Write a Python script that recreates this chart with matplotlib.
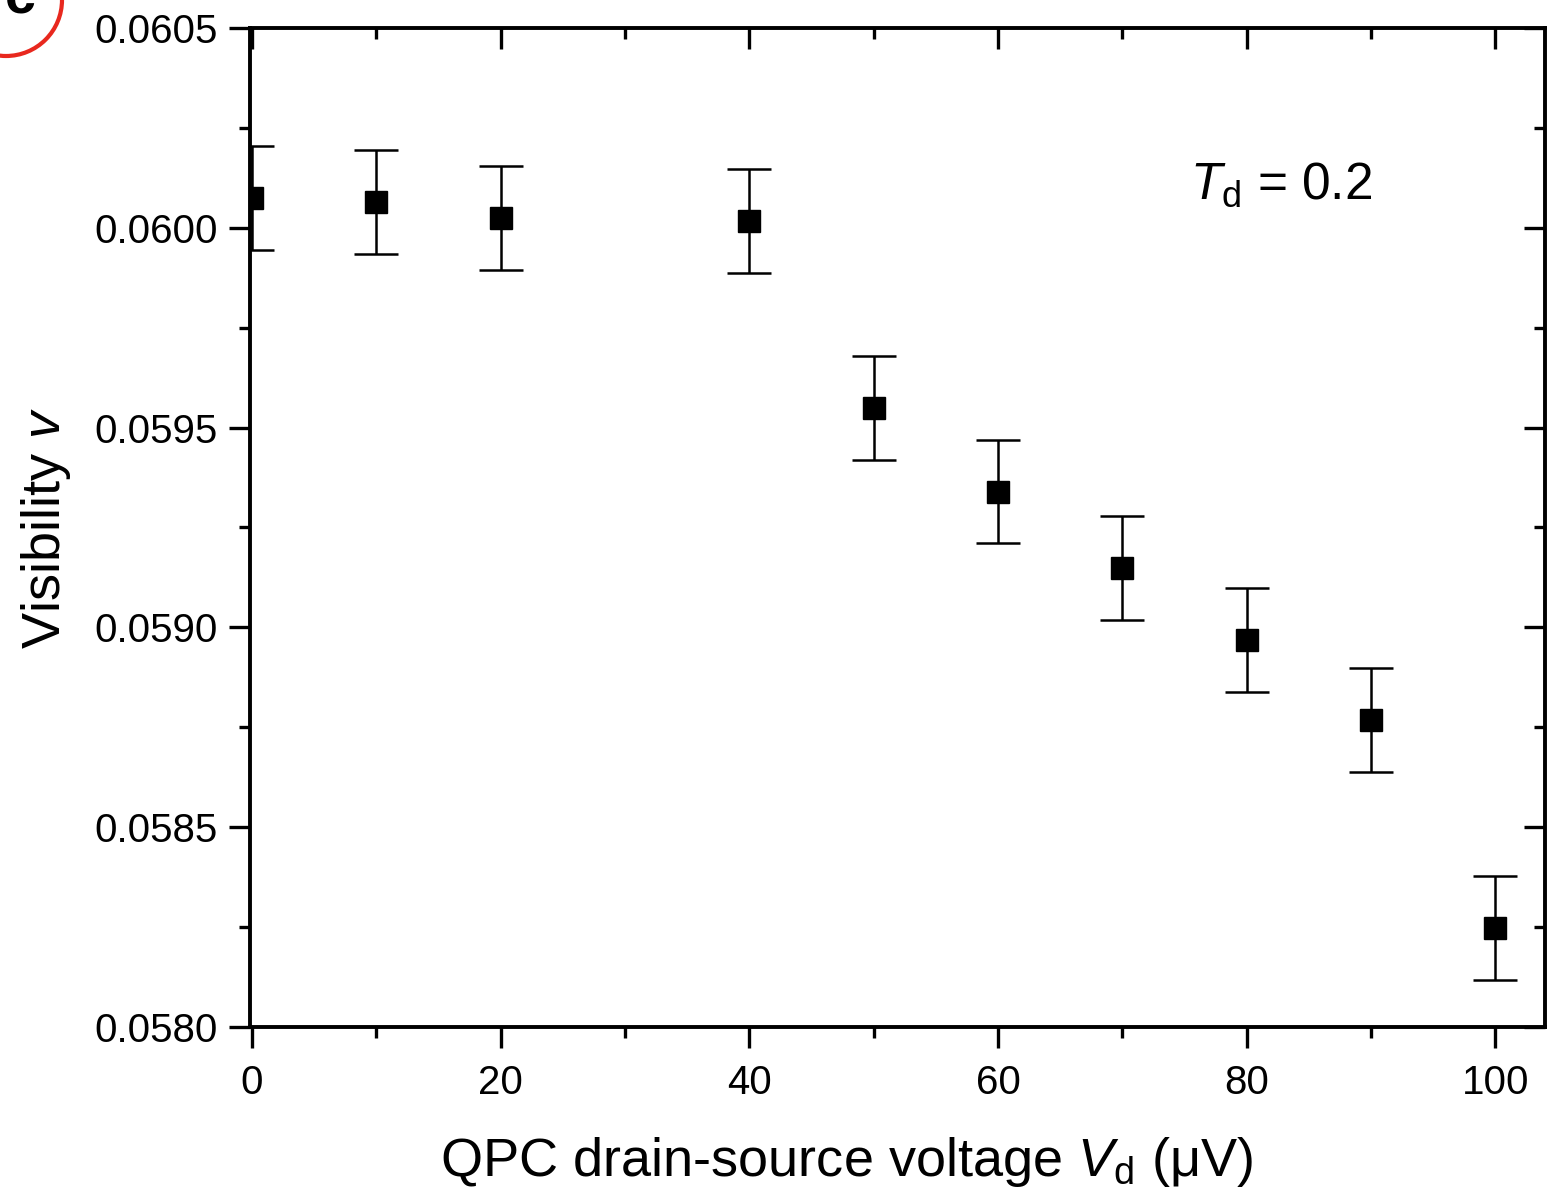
import matplotlib
matplotlib.use("Agg")
from matplotlib import pyplot as plt
from matplotlib.ticker import MultipleLocator, FormatStrFormatter
from matplotlib.patches import Ellipse

plt.rcParams['font.family'] = ['Liberation Sans', 'DejaVu Sans']
plt.rcParams['mathtext.fontset'] = 'custom'
plt.rcParams['mathtext.rm'] = 'Liberation Sans'
plt.rcParams['mathtext.it'] = 'Liberation Sans:italic'

# data
voltage = [0, 10, 20, 40, 50, 60, 70, 80, 90, 100]
visibility = [0.060075, 0.060065, 0.060025, 0.060018, 0.059548,
              0.059340, 0.059148, 0.058968, 0.058768, 0.058248]
error = [0.00013, 0.00013, 0.00013, 0.00013, 0.00013,
         0.00013, 0.00013, 0.00013, 0.00013, 0.00013]

fig = plt.figure(figsize=(15.47, 11.9), dpi=100)
ax = fig.add_axes([0.1616, 0.137, 0.8371, 0.8395])

ax.errorbar(voltage, visibility, yerr=error, fmt='s', color='black',
            markersize=16, capsize=16, elinewidth=1.8, capthick=1.8)

ax.set_xlim(-0.16, 104)
ax.set_ylim(0.0580, 0.0605)

ax.xaxis.set_major_locator(MultipleLocator(20))
ax.xaxis.set_minor_locator(MultipleLocator(10))
ax.yaxis.set_major_locator(MultipleLocator(0.0005))
ax.yaxis.set_minor_locator(MultipleLocator(0.00025))
ax.yaxis.set_major_formatter(FormatStrFormatter('%.4f'))

for s in ax.spines.values():
    s.set_linewidth(2.8)

ax.tick_params(which='both', direction='out', width=2.4, labelsize=29)
ax.tick_params(axis='x', pad=12)
ax.tick_params(axis='y', pad=8)
ax.tick_params(which='major', length=15)
ax.tick_params(which='minor', length=8)
# top and right ticks point inwards, no labels
ax2 = ax.secondary_xaxis('top')
ax2.xaxis.set_major_locator(MultipleLocator(20))
ax2.xaxis.set_minor_locator(MultipleLocator(10))
ax2.tick_params(which='both', direction='in', width=2.4, labeltop=False)
ax2.tick_params(which='major', length=15)
ax2.tick_params(which='minor', length=8)
ax3 = ax.secondary_yaxis('right')
ax3.yaxis.set_major_locator(MultipleLocator(0.0005))
ax3.yaxis.set_minor_locator(MultipleLocator(0.00025))
ax3.tick_params(which='both', direction='in', width=2.4, labelright=False)
ax3.tick_params(which='major', length=15)
ax3.tick_params(which='minor', length=8)

ax.set_xlabel(r'QPC drain-source voltage $V_\mathrm{d}$ (μV)', fontsize=39)
ax.xaxis.set_label_coords(0.461, -0.108)
ax.set_ylabel(r'Visibility $v$', fontsize=39)
ax.yaxis.set_label_coords(-0.137, 0.5)

ax.text(0.726, 0.843, r'$T_\mathrm{d}$ = 0.2', transform=ax.transAxes,
        fontsize=37, ha='left', va='center')

# circled panel label, cut by the top edge
fig.patches.append(Ellipse((6 / 1547, 1 - 0 / 1190), 112 / 1547, 112 / 1190,
                           transform=fig.transFigure, fill=False,
                           edgecolor='#e8281e', linewidth=3))
fig.text(20 / 1547, 1 - 0 / 1190, 'c', fontsize=40, fontweight='bold',
         ha='center', va='center')

fig.savefig('out.png', dpi=100)
